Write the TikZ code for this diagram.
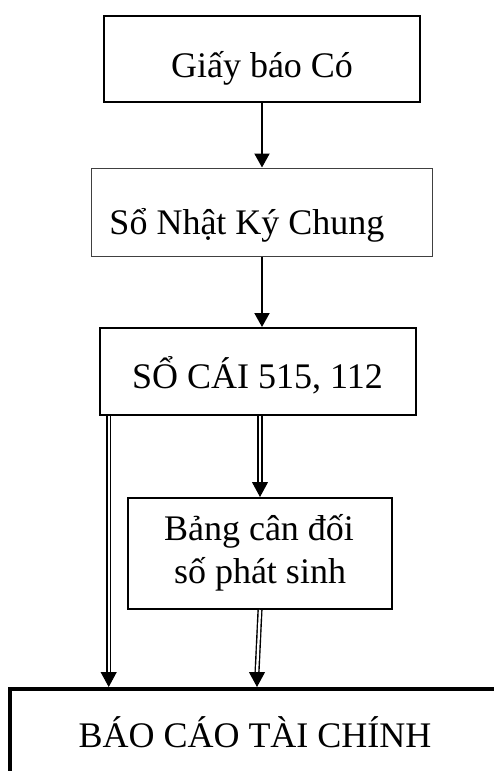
\documentclass[tikz,border=0pt]{standalone}
\usepackage{fontspec}
\setmainfont{Liberation Serif}
\usetikzlibrary{arrows.meta}

\begin{document}
\begin{tikzpicture}[x=1pt,y=-1pt,
  frame/.style={draw, rectangle, inner sep=0pt, line width=2pt},
  txt/.style={inner sep=0pt, anchor=base, font=\fontsize{36}{43}\selectfont},
  single/.style={line width=2pt, -{Triangle[length=14pt,width=15pt]}},
  dblshaft/.style={double, double distance=2.3pt, line width=1.4pt},
  dbltip/.style={line width=1pt, -{Triangle[length=15pt,width=16pt]}}]

\useasboundingbox (0,0) rectangle (494,771);

% boxes
\node[frame, minimum width=316pt, minimum height=86pt] (giay) at (262,59) {};
\node[frame, line width=1pt, draw=black!75, minimum width=341pt, minimum height=88pt] (nkc) at (261.5,212) {};
\node[frame, minimum width=316pt, minimum height=87pt] (socai) at (258,371.5) {};
\node[frame, minimum width=264pt, minimum height=111pt] (bang) at (260,553.5) {};
\node[frame, line width=4pt, minimum width=530pt, minimum height=140pt, anchor=north west] (bctc) at (8,687) {};

% box texts
\node[txt] (t1) at (262,77) {Giấy báo Có};
\node[txt] (t2) at (247,234) {Sổ Nhật Ký Chung};
\node[txt] (t3) at (257.5,388) {SỔ CÁI 515, 112};
\node[txt] (t4a) at (259,540) {Bảng cân đối};
\node[txt] (t4b) at (260,583) {số phát sinh};
\node[txt] (t5) at (255,747) {BÁO CÁO TÀI CHÍNH};

% single arrows
\draw[single] (giay.south) -- (nkc.north -| giay.south);
\draw[single] (nkc.south -| giay.south) -- (socai.north -| giay.south);

% double arrows
\coordinate (lx) at (108.7,0);
\coordinate (mx) at (260,0);
\coordinate (bx) at (257,0);
\coordinate (d1end) at (bctc.north -| lx);
\coordinate (d2end) at (bang.north -| mx);
\coordinate (d3end) at (bctc.north -| bx);

\draw[dblshaft] (socai.south -| lx) -- ([yshift=14pt]d1end);
\draw[dbltip] ([yshift=15pt]d1end) -- (d1end);

\draw[dblshaft] (socai.south -| mx) -- ([yshift=14pt]d2end);
\draw[dbltip] ([yshift=15pt]d2end) -- (d2end);

\draw[dblshaft] (bang.south) -- ([yshift=14pt]d3end);
\draw[dbltip] ([yshift=15pt]d3end) -- (d3end);
\end{tikzpicture}
\end{document}
